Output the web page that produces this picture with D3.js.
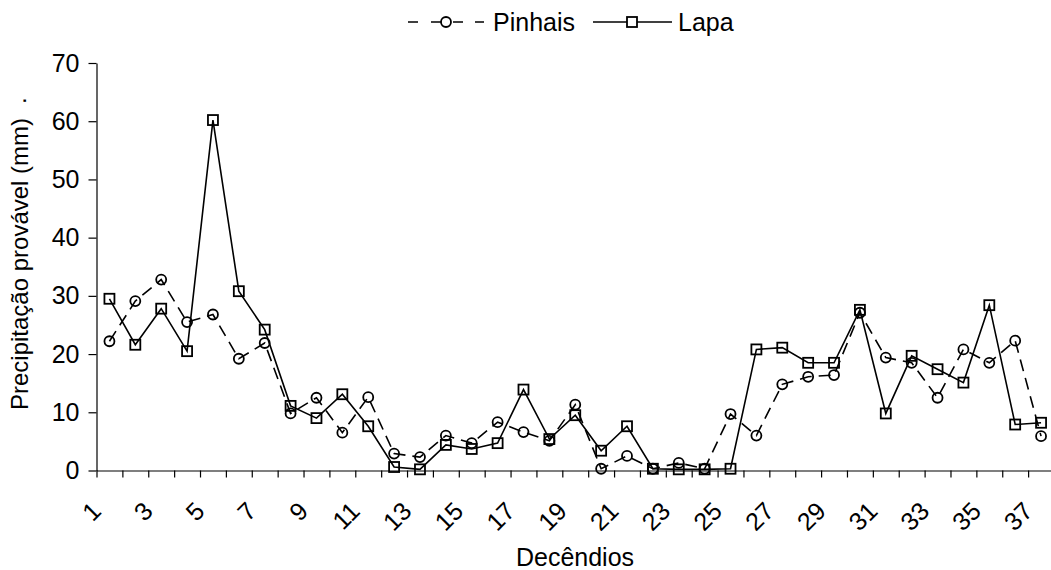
<!DOCTYPE html>
<meta charset="utf-8">
<style>
body { margin: 0; background: #fff; }
svg { display: block; font-family: "Liberation Sans", Arial, sans-serif; }
.axis path, .axis line { stroke: #000; stroke-width: 1.2px; }
.axis text { font-size: 25px; fill: #000; }
</style>
<svg width="1051" height="570"></svg>
<script src="https://cdnjs.cloudflare.com/ajax/libs/d3/7.8.5/d3.min.js"></script>
<script>

// decêndios 1..37
var decendios = d3.range(1, 38);
var tickLabels = decendios.filter(function(d) { return d % 2 == 1; });
var yTicks = [0, 10, 20, 30, 40, 50, 60, 70];

var pinhais = [22.2, 29.1, 32.8, 25.5, 26.8, 19.2, 21.9, 9.8, 12.5, 6.5, 12.6, 2.9, 2.3, 6.0, 4.7, 8.3, 6.6, 5.1, 11.3, 0.3,
               2.5, 0.3, 1.3, 0.3, 9.7, 6.0, 14.8, 16.1, 16.4, 27.1, 19.4, 18.5, 12.5, 20.8, 18.5, 22.3, 5.9];
var lapa    = [29.5, 21.6, 27.8, 20.5, 60.2, 30.8, 24.2, 11.1, 9.0, 13.1, 7.6, 0.6, 0.2, 4.4, 3.7, 4.7, 13.9, 5.4, 9.5, 3.4,
               7.6, 0.3, 0.2, 0.2, 0.3, 20.8, 21.1, 18.5, 18.5, 27.6, 9.8, 19.7, 17.4, 15.1, 28.4, 7.9, 8.2];

var svg = d3.select("svg"),
    plotLeft = 96.5, plotRight = 1054,
    plotTop = 63, plotBottom = 470.5;

var x = d3.scaleBand()
    .domain(decendios)
    .range([plotLeft, plotRight]);

// edges of the categories, where Excel puts the tick marks
var xEdge = d3.scaleLinear()
    .domain([0, decendios.length])
    .range([plotLeft, plotRight]);

var y = d3.scaleLinear()
    .domain([0, 70])
    .range([plotBottom, plotTop]);

function cx(d, i) { return x(decendios[i]) + x.bandwidth() / 2; }

// y axis
svg.append("g")
    .attr("class", "axis")
    .attr("transform", "translate(" + plotLeft + ",0)")
    .call(d3.axisLeft(y).tickValues(yTicks).tickSize(8).tickSizeOuter(0).tickPadding(9));

// x axis line + tick marks
svg.append("g")
    .attr("class", "axis")
    .attr("transform", "translate(0," + plotBottom + ")")
    .call(d3.axisBottom(xEdge).tickValues(d3.range(0, decendios.length + 1)).tickSize(7).tickSizeOuter(0).tickFormat(""));

// rotated category labels
svg.append("g")
    .selectAll("text")
    .data(tickLabels)
    .enter().append("text")
    .attr("transform", function(d) {
      return "translate(" + (x(d) + x.bandwidth() / 2 - 13) + "," + (plotBottom + 36) + ") rotate(-45)";
    })
    .attr("text-anchor", "end")
    .attr("dy", "0.35em")
    .attr("font-size", "25px")
    .text(function(d) { return d; });

// series
var line = d3.line()
    .x(cx)
    .y(function(d) { return y(d); });

svg.append("path")
    .datum(pinhais)
    .attr("fill", "none")
    .attr("stroke", "#000")
    .attr("stroke-width", 1.6)
    .attr("stroke-dasharray", "12,7")
    .attr("d", line);

svg.append("path")
    .datum(lapa)
    .attr("fill", "none")
    .attr("stroke", "#000")
    .attr("stroke-width", 1.6)
    .attr("d", line);

svg.append("g")
    .selectAll("circle")
    .data(pinhais)
    .enter().append("circle")
    .attr("cx", cx)
    .attr("cy", function(d) { return y(d); })
    .attr("r", 5)
    .attr("fill", "none")
    .attr("stroke", "#000")
    .attr("stroke-width", 1.8);

svg.append("g")
    .selectAll("rect")
    .data(lapa)
    .enter().append("rect")
    .attr("x", function(d, i) { return cx(d, i) - 5; })
    .attr("y", function(d) { return y(d) - 5; })
    .attr("width", 10)
    .attr("height", 10)
    .attr("fill", "none")
    .attr("stroke", "#000")
    .attr("stroke-width", 1.8);

// axis titles
svg.append("text")
    .attr("x", 575)
    .attr("y", 566)
    .attr("text-anchor", "middle")
    .attr("font-size", "25px")
    .text("Decêndios");

svg.append("text")
    .attr("transform", "translate(28,410) rotate(-90)")
    .attr("text-anchor", "start")
    .attr("font-size", "24px")
    .text("Precipitação provável (mm)");

svg.append("text")
    .attr("transform", "translate(26,104) rotate(-90)")
    .attr("font-size", "24px")
    .text(".");

// legend
var legend = svg.append("g").attr("transform", "translate(0,22)");

legend.append("line")
    .attr("x1", 408).attr("x2", 484)
    .attr("stroke", "#000").attr("stroke-width", 1.6)
    .attr("stroke-dasharray", "10,13,10,12,10,12,12");
legend.append("circle")
    .attr("cx", 446).attr("r", 5)
    .attr("fill", "#fff").attr("stroke", "#000").attr("stroke-width", 1.8);
legend.append("text")
    .attr("x", 493).attr("dy", "0.35em")
    .attr("font-size", "25px")
    .text("Pinhais");

legend.append("line")
    .attr("x1", 593).attr("x2", 672)
    .attr("stroke", "#000").attr("stroke-width", 1.6);
legend.append("rect")
    .attr("x", 627).attr("y", -5).attr("width", 10).attr("height", 10)
    .attr("fill", "#fff").attr("stroke", "#000").attr("stroke-width", 1.8);
legend.append("text")
    .attr("x", 678).attr("dy", "0.35em")
    .attr("font-size", "25px")
    .text("Lapa");

</script>
